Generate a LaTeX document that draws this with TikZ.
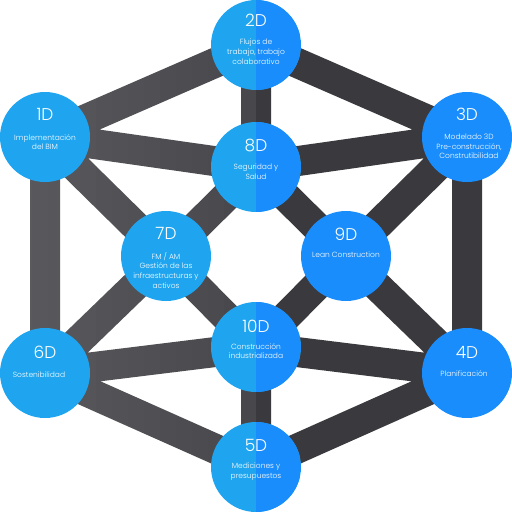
\documentclass[tikz,border=0pt]{standalone}
\usepackage{fontspec}
\setmainfont{Poppins}[UprightFont=* Light]
\usetikzlibrary{calc,backgrounds}
\definecolor{blueL}{HTML}{1FA5EF}
\definecolor{blueR}{HTML}{1A8DFC}
\definecolor{barL}{HTML}{5B5A5F}
\definecolor{barM}{HTML}{48474C}
\definecolor{barR}{HTML}{3A393E}
\tikzset{
  disc/.style={circle,minimum size=90pt,inner sep=0pt,fill=blueL,
    path picture={\fill[blueR] (path picture bounding box.north) rectangle (path picture bounding box.south east);}},
  discL/.style={circle,minimum size=90pt,inner sep=0pt,fill=blueL},
  discR/.style={circle,minimum size=90pt,inner sep=0pt,fill=blueR},
  title/.style={text=white,inner sep=0pt,anchor=center,font=\fontsize{17}{17}\selectfont},
  desc/.style={text=white,inner sep=0pt,anchor=north,align=center,font=\fontsize{7.5}{9.6}\selectfont},
  bar/.style={line width=30pt}
}
\newcommand\allbars[1]{%
  \draw[bar,#1] (d1.center)--(d2.center) (d2.center)--(d3.center) (d3.center)--(d4.center)
    (d4.center)--(d5.center) (d5.center)--(d6.center) (d6.center)--(d1.center)
    (d2.center)--(d8.center) (d5.center)--(d10.center) (d1.center)--(d8.center)
    (d3.center)--(d8.center) (d6.center)--(d10.center) (d4.center)--(d10.center)
    (d1.center)--(d7.center) (d3.center)--(d9.center) (d6.center)--(d7.center)
    (d4.center)--(d9.center) (d8.center)--(d7.center) (d8.center)--(d9.center)
    (d7.center)--(d10.center) (d9.center)--(d10.center);}
\begin{document}
\begin{tikzpicture}[x=1pt,y=-1pt]
\useasboundingbox (0,0) rectangle (512,512);
% circles
\node[disc]  (d2)  at (256,45)  {};
\node[discL] (d1)  at (45,137)  {};
\node[discR] (d3)  at (467,137) {};
\node[disc]  (d8)  at (256,167) {};
\node[discL] (d7)  at (166,256) {};
\node[discR] (d9)  at (346,256) {};
\node[disc]  (d10) at (256,347) {};
\node[discL] (d6)  at (45,373)  {};
\node[discR] (d4)  at (467,373) {};
\node[disc]  (d5)  at (256,467) {};
% bars
\begin{pgfonlayer}{background}
\foreach \i in {0,...,15}{%
  \pgfmathsetmacro\p{\i/15*100}
  \begin{scope}
    \clip (\i*16,0) rectangle (\i*16+16,512);
    \allbars{color=barM!\p!barL}
  \end{scope}}
\begin{scope}
  \clip (256,0) rectangle (512,512);
  \allbars{color=barR}
\end{scope}
\end{pgfonlayer}
% titles
\node[title] (t2)  at ($(d2)+(0,-25)$)  {2D};
\node[title] (t1)  at ($(d1)+(0,-23)$)  {1D};
\node[title] (t3)  at ($(d3)+(0,-23)$)  {3D};
\node[title] (t8)  at ($(d8)+(0,-22)$)  {8D};
\node[title] (t7)  at ($(d7)+(0,-23)$)  {7D};
\node[title] (t9)  at ($(d9)+(0,-22)$)  {9D};
\node[title] (t10) at ($(d10)+(0,-21)$) {10D};
\node[title] (t6)  at ($(d6)+(0,-21)$)  {6D};
\node[title] (t4)  at ($(d4)+(0,-21)$)  {4D};
\node[title] (t5)  at ($(d5)+(0,-22)$)  {5D};
% descriptions
\node[desc] (s2)  at ($(d2)+(0,-6)$)  {Flujos de\\trabajo, trabajo\\colaborativo};
\node[desc] (s1)  at ($(d1)+(0,-3)$)  {Implementación\\del BIM};
\node[desc] (s3)  at ($(d3)+(2,-3)$)  {Modelado 3D\\Pre-construcción,\\Construtibilidad};
\node[desc] (s8)  at ($(d8)+(0,-3)$)  {Seguridad y\\Salud};
\node[desc] (s7)  at ($(d7)+(0,-4)$)  {FM / AM\\Gestión de las\\infraestructuras y\\activos};
\node[desc] (s9)  at ($(d9)+(0,-4)$)  {Lean Construction};
\node[desc] (s10) at ($(d10)+(0,-4)$) {Construcción\\industrializada};
\node[desc] (s6)  at ($(d6)+(-6,-1)$) {Sostenibilidad};
\node[desc] (s4)  at ($(d4)+(-3,-3)$) {Planificación};
\node[desc] (s5)  at ($(d5)+(0,-4)$)  {Mediciones y\\presupuestos};
\end{tikzpicture}
\end{document}
